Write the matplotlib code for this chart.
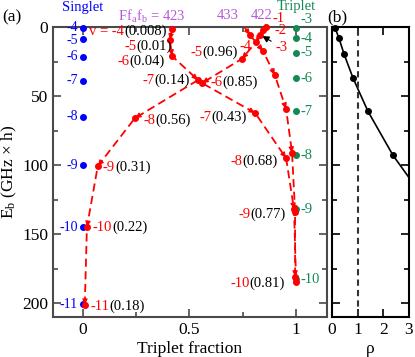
import numpy as np
import matplotlib.pyplot as plt
from matplotlib.ticker import MultipleLocator

plt.rcParams['font.family'] = ['Liberation Serif', 'DejaVu Serif']
plt.rcParams['mathtext.fontset'] = 'custom'
plt.rcParams['mathtext.rm'] = 'Liberation Serif'
plt.rcParams['mathtext.it'] = 'Liberation Serif:italic'

RED = '#ff0000'
BLUE = '#0000ff'
GREEN = '#138a52'
PURPLE = '#b55ad8'
SPINE = '#4a4a4a'

# singlet / triplet bare levels
singlet_v = [-4, -5, -6, -7, -8, -9, -10, -11]
singlet_E = [0.7, 8.7, 21.7, 39, 65, 100, 145, 200.7]
triplet_v = [-3, -4, -5, -6, -7, -8, -9, -10]
triplet_E = [0.7, 8, 18.8, 37, 60.9, 92.8, 131.9, 182.6]

# branch Ff_a f_b = 423
b423_v = [-4, -5, -6, -7, -8, -9, -10, -11]
b423_x = [0.418, 0.408, 0.418, 0.54, 0.244, 0.07, 0.019, 0.009]
b423_E = [1.4, 9.4, 21, 38.4, 66, 100.7, 145, 201.4]
b423_frac = ['0.008', '0.01', '0.04', '0.14', '0.56', '0.31', '0.22', '0.18']

# branch 433
b433_x = [0.755, 0.784, 0.845, 0.90, 0.953, 0.981, 0.995, 0.995]
b433_E = [-0.5, 5.8, 17.4, 34.8, 59.4, 91.3, 134, 181]

# branch 422
b422_v = [-1, -2, -3, -4, -5, -6, -7, -8, -9, -10]
b422_x = [0.86, 0.845, 0.83, 0.812, 0.746, 0.559, 0.808, 0.953, 0.99, 1.0]
b422_E = [0, 2.5, 5.5, 10.9, 23, 40.6, 62.3, 95, 132, 185]
b422_frac = [None, None, None, None, '0.96', '0.85', '0.43', '0.68', '0.77', '0.81']

# panel (b)
rho = [0.12, 0.27, 0.47, 0.82, 1.40, 2.38]
rho_E = [0.7, 8, 19.6, 37, 61, 93]
rho_line = [0.12, 0.27, 0.47, 0.82, 1.40, 2.38, 3.0]
rho_line_E = [0.7, 8, 19.6, 37, 61, 93, 109]

fig = plt.figure(figsize=(4.15, 3.57), dpi=100)
ax = fig.add_axes([0.1277, 0.112, 0.6604, 0.8123])
bx = fig.add_axes([0.800, 0.112, 0.1855, 0.8123])


def style_axis(a, color):
    for s in a.spines.values():
        s.set_color(color)
        s.set_linewidth(1.5)
    a.tick_params(which='both', direction='in', top=True, right=True,
                  color=color, width=1.2, labelsize=12.5)
    a.tick_params(which='major', length=6)
    a.tick_params(which='minor', length=3.5)


def branch(x, y, start_marker=0):
    ax.plot(x, y, '--', color=RED, lw=1.3, dashes=(4.5, 2.5), zorder=3)
    ax.plot(x[start_marker:], y[start_marker:], 'o', color=RED, ms=4, zorder=4, clip_on=False)
    for i in range(len(x) - 1):
        p0 = np.array([x[i], y[i]])
        p1 = np.array([x[i + 1], y[i + 1]])
        ax.annotate('', xy=p1, xytext=p0 + 0.97 * (p1 - p0),
                    arrowprops=dict(arrowstyle='-|>,head_length=0.5,head_width=0.22',
                                    color=RED, lw=0.8, shrinkA=0, shrinkB=2.5,
                                    mutation_scale=7), zorder=5)


def two_color(x, y, red, black, dx, dy, ha):
    fs = 10.5
    if ha == 'left':
        t = ax.annotate(red, (x, y), xytext=(dx, dy), textcoords='offset points',
                        color=RED, fontsize=fs, ha='left', va='center', zorder=6)
        if black:
            ax.annotate(black, xy=(1, 0), xycoords=t, color='black', fontsize=fs,
                        ha='left', va='bottom', zorder=6)
    else:
        if black:
            t = ax.annotate(black, (x, y), xytext=(dx, dy), textcoords='offset points',
                            color='black', fontsize=fs, ha='right', va='center', zorder=6)
            ax.annotate(red, xy=(0, 0), xycoords=t, color=RED, fontsize=fs,
                        ha='right', va='bottom', zorder=6)
        else:
            ax.annotate(red, (x, y), xytext=(dx, dy), textcoords='offset points',
                        color=RED, fontsize=fs, ha='right', va='center', zorder=6)


# ---- panel (a)
style_axis(ax, SPINE)
ax.set_xlim(-0.14, 1.145)
ax.set_ylim(210, 0)
ax.xaxis.set_major_locator(MultipleLocator(0.5))
ax.xaxis.set_minor_locator(MultipleLocator(0.25))
ax.yaxis.set_major_locator(MultipleLocator(50))
ax.yaxis.set_minor_locator(MultipleLocator(25))
ax.set_xticklabels([], minor=True)
ax.xaxis.set_major_formatter(lambda v, p: f'{v:g}')

ax.plot([0] * len(singlet_E), singlet_E, 'o', color=BLUE, ms=4, zorder=4, clip_on=False)
ax.plot([1] * len(triplet_E), triplet_E, 'o', color=GREEN, ms=4, zorder=4, clip_on=False)

for v, e in zip(singlet_v, singlet_E):
    ax.annotate(str(v), (0, e), xytext=(-3.5, 0.5 if v == -4 else (-1 if v == -5 else 0)),
                textcoords='offset points', color=BLUE, fontsize=10, ha='right', va='center')
for v, e in zip(triplet_v, triplet_E):
    ax.annotate(str(v), (1, e), xytext=(3.5, 6 if v == -3 else 0), textcoords='offset points',
                color=GREEN, fontsize=10.5, ha='left', va='center')

branch(b423_x, b423_E)
branch(b433_x, b433_E, start_marker=1)
branch(b422_x, b422_E)

off423 = [(-4, -1.5), (1.5, -4.5), (-5, -3.6), (-6, 0), (6, -2), (3.6, -0.7), (4.3, 0), (4.3, -0.7)]
side423 = ['right', 'right', 'right', 'right', 'left', 'left', 'left', 'left']
for i, v in enumerate(b423_v):
    red = f'v = {v}' if i == 0 else str(v)
    two_color(b423_x[i], b423_E[i], red, f'({b423_frac[i]})', *off423[i], side423[i])

off422 = [(4.3, 6), (8, 0), None, (-3, -3), (-3, 5), (6, 0.7), (-6, -3), (-6, -2), (-6, -3.6), (-8, -0.7)]
side422 = ['left', 'left', None, 'right', 'right', 'left', 'right', 'right', 'right', 'right']
for i, v in enumerate(b422_v):
    if off422[i] is None:
        continue
    fr = f'({b422_frac[i]})' if b422_frac[i] else None
    two_color(b422_x[i], b422_E[i], str(v), fr, *off422[i], side422[i])
# -3 pointed to with an arrow
ax.annotate('-3', xy=(b422_x[2], b422_E[2]), xytext=(11, -9), textcoords='offset points',
            color=RED, fontsize=10.5, ha='left', va='center',
            arrowprops=dict(arrowstyle='-|>,head_length=0.5,head_width=0.25', color='black',
                            lw=0.8, shrinkA=1, shrinkB=2, mutation_scale=8))

ax.text(0, -14.5, 'Singlet', color=BLUE, fontsize=10.5, ha='center', va='center')
ax.text(1, -15, 'Triplet', color=GREEN, fontsize=10.5, ha='center', va='center')
ax.text(0.479, -8, r'Ff$_\mathrm{a}$f$_\mathrm{b}$ = 423', color=PURPLE, fontsize=10.5,
        ha='right', va='center')
ax.text(0.68, -8, '433', color=PURPLE, fontsize=10.5, ha='center', va='center')
ax.text(0.836, -8, '422', color=PURPLE, fontsize=10.5, ha='center', va='center')

ax.set_xlabel('Triplet fraction', fontsize=12.5, labelpad=2)
ax.set_ylabel(r'E$_\mathrm{b}$ (GHz × h)', fontsize=12.5, labelpad=2)

# ---- panel (b)
style_axis(bx, 'black')
bx.set_xlim(0, 3)
bx.set_ylim(210, 0)
bx.xaxis.set_major_locator(MultipleLocator(1))
bx.yaxis.set_major_locator(MultipleLocator(50))
bx.yaxis.set_minor_locator(MultipleLocator(25))
bx.set_yticklabels([])
bx.plot(rho_line, rho_line_E, '-', color='black', lw=1.2)
bx.plot(rho, rho_E, 'o', color='black', ms=4, clip_on=False)
bx.axvline(1, color='#333333', ls='--', lw=1.5, dashes=(3, 2))
bx.set_xlabel('ρ', fontsize=12.5, labelpad=2)

fig.text(0.005, 0.975, '(a)', fontsize=12.5, ha='left', va='top')
fig.text(0.788, 0.975, '(b)', fontsize=12.5, ha='left', va='top')

fig.savefig('out.png', dpi=100)
